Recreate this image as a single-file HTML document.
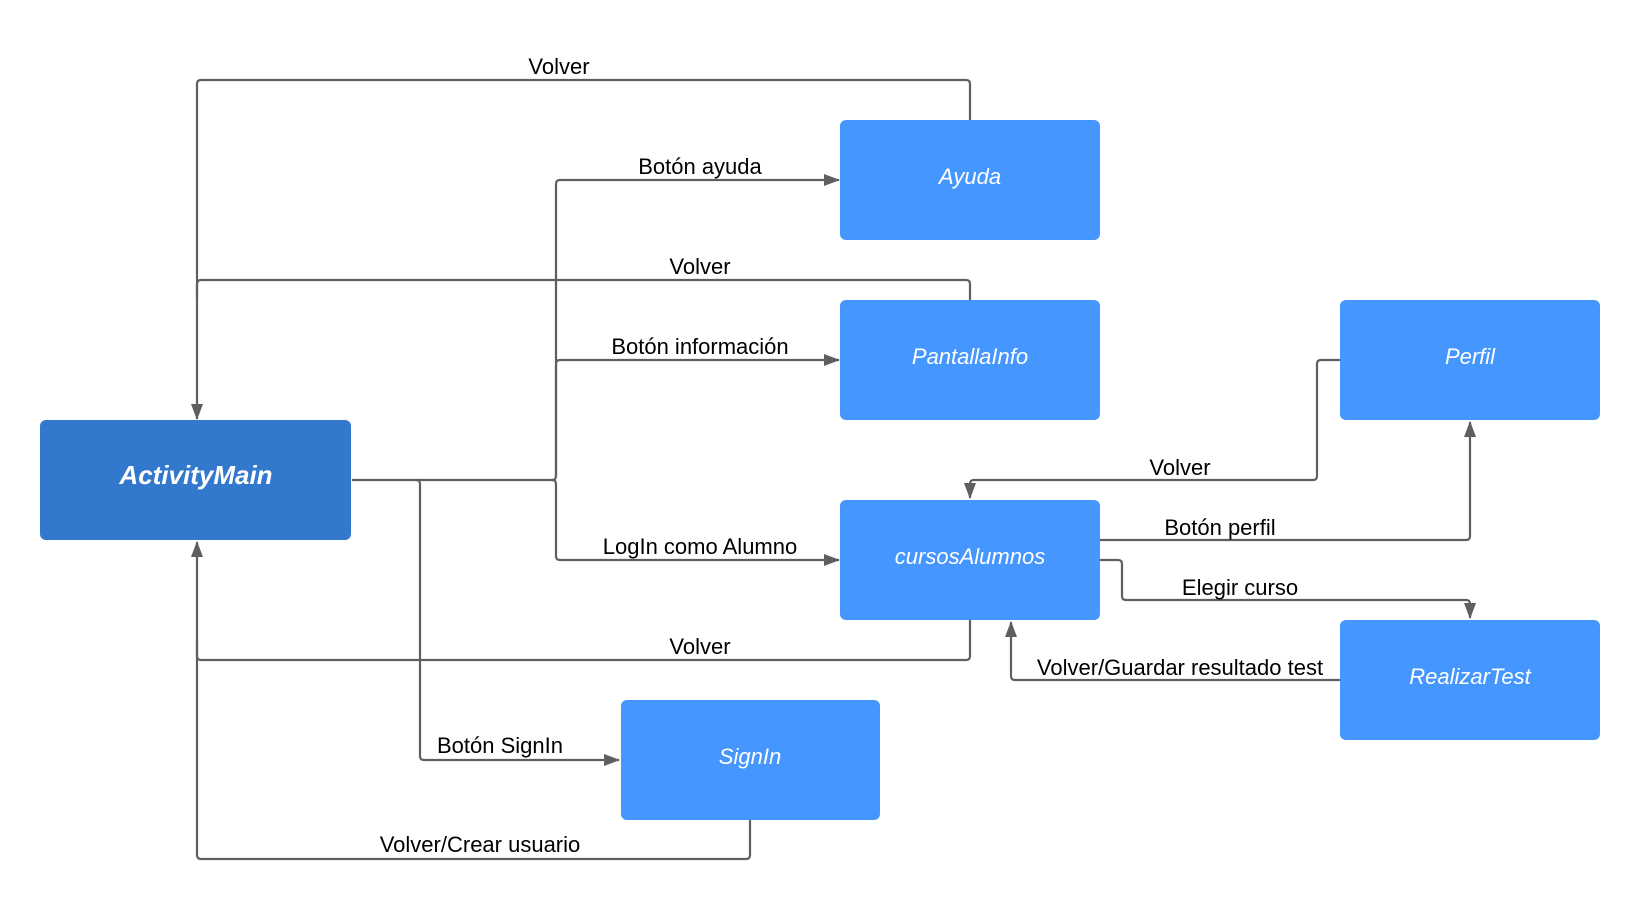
<!DOCTYPE html>
<html><head><meta charset="utf-8"><style>
html,body{margin:0;padding:0;background:#fff;}
svg{display:block;}
text{font-family:"Liberation Sans",sans-serif;}
.l{font-size:22px;fill:#000;text-anchor:middle;}
.b{font-size:22px;fill:#fff;font-style:italic;text-anchor:middle;}
path.c{fill:none;stroke:#5f5f5f;stroke-width:2.2;stroke-linejoin:round;}
</style></head><body>
<svg width="1640" height="917" viewBox="0 0 1640 917" xmlns="http://www.w3.org/2000/svg">
<defs>
<marker id="a" markerWidth="16" markerHeight="12" refX="15" refY="6" orient="auto" markerUnits="userSpaceOnUse">
<path d="M0,0 L16,6 L0,12 z" fill="#5f5f5f"/></marker>
</defs>
<path class="c" d="M970,120 V84 Q970,80 966,80 H201 Q197,80 197,84 V419" marker-end="url(#a)"/>
<path class="c" d="M970,300 V284 Q970,280 966,280 H201 Q197,280 197,284 V300"/>
<path class="c" d="M352,480 H552 Q556,480 556,476 V184 Q556,180 560,180 H839" marker-end="url(#a)"/>
<path class="c" d="M556,476 V364 Q556,360 560,360 H839" marker-end="url(#a)"/>
<path class="c" d="M552,480 Q556,480 556,484 V556 Q556,560 560,560 H839" marker-end="url(#a)"/>
<path class="c" d="M416,480 Q420,480 420,484 V756 Q420,760 424,760 H619" marker-end="url(#a)"/>
<path class="c" d="M750,820 V855 Q750,859 746,859 H201 Q197,859 197,855 V542" marker-end="url(#a)"/>
<path class="c" d="M970,620 V656 Q970,660 966,660 H201 Q197,660 197,656 V640"/>
<path class="c" d="M1340,360 H1321 Q1317,360 1317,364 V476 Q1317,480 1313,480 H974 Q970,480 970,484 V498" marker-end="url(#a)"/>
<path class="c" d="M1100,540 H1466 Q1470,540 1470,536 V422" marker-end="url(#a)"/>
<path class="c" d="M1100,560 H1118 Q1122,560 1122,564 V596 Q1122,600 1126,600 H1466 Q1470,600 1470,604 V618" marker-end="url(#a)"/>
<path class="c" d="M1340,680 H1015 Q1011,680 1011,676 V622" marker-end="url(#a)"/>
<rect x="40" y="420" width="311" height="120" rx="6" fill="#3278CC"/>
<rect x="840" y="120" width="260" height="120" rx="6" fill="#4596FF"/>
<rect x="840" y="300" width="260" height="120" rx="6" fill="#4596FF"/>
<rect x="1340" y="300" width="260" height="120" rx="6" fill="#4596FF"/>
<rect x="840" y="500" width="260" height="120" rx="6" fill="#4596FF"/>
<rect x="1340" y="620" width="260" height="120" rx="6" fill="#4596FF"/>
<rect x="621" y="700" width="259" height="120" rx="6" fill="#4596FF"/>
<text class="b" x="196" y="484" style="font-size:26px;font-weight:bold">ActivityMain</text>
<text class="b" x="970" y="184">Ayuda</text>
<text class="b" x="970" y="364">PantallaInfo</text>
<text class="b" x="1470" y="364">Perfil</text>
<text class="b" x="970" y="564">cursosAlumnos</text>
<text class="b" x="1470" y="684">RealizarTest</text>
<text class="b" x="750" y="764">SignIn</text>
<text class="l" x="559" y="74">Volver</text>
<text class="l" x="700" y="174">Botón ayuda</text>
<text class="l" x="700" y="274">Volver</text>
<text class="l" x="700" y="354">Botón información</text>
<text class="l" x="700" y="554">LogIn como Alumno</text>
<text class="l" x="700" y="654">Volver</text>
<text class="l" x="500" y="753">Botón SignIn</text>
<text class="l" x="480" y="852">Volver/Crear usuario</text>
<text class="l" x="1180" y="475">Volver</text>
<text class="l" x="1220" y="535">Botón perfil</text>
<text class="l" x="1240" y="595">Elegir curso</text>
<text class="l" x="1180" y="675">Volver/Guardar resultado test</text>
</svg>
</body></html>
